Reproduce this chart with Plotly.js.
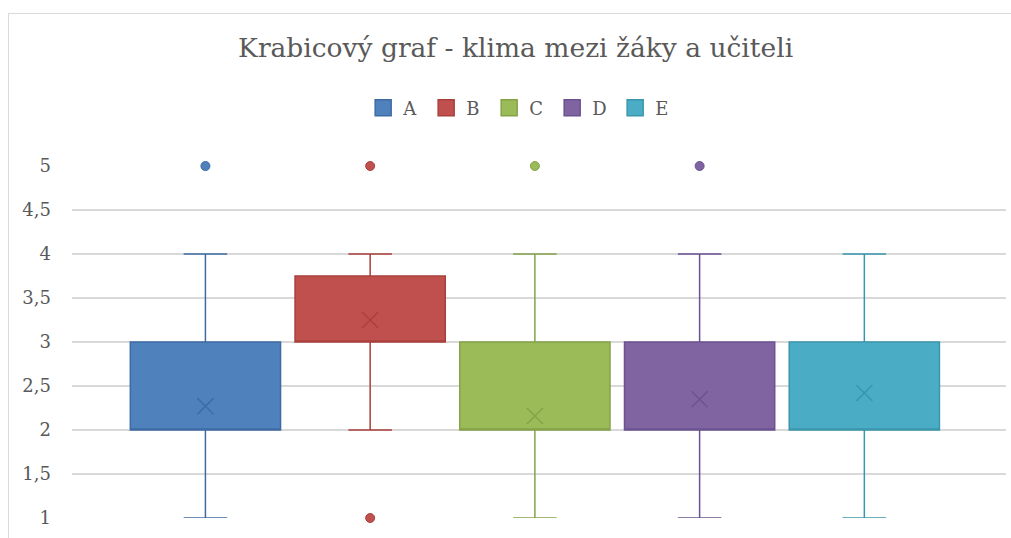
<!DOCTYPE html>
<html>
<head>
<meta charset="utf-8">
<script src="https://cdn.plot.ly/plotly-3.0.1.min.js"></script>
<style>
  html, body { margin: 0; padding: 0; background: #fff; overflow: hidden; }
  #wrap { position: relative; width: 1011px; height: 538px; overflow: hidden; }
  #chart { position: absolute; left: 0; top: 0; width: 1011px; height: 538px; }
  #frame { position: absolute; left: 8px; top: 13px; width: 1100px; height: 700px;
           border: 1px solid #D9D9D9; pointer-events: none; }
</style>
</head>
<body>
<div id="wrap">
  <div id="chart"></div>
  <div id="frame"></div>
</div>
<script>
// ---- data ----
const groups     = ["A", "B", "C", "D", "E"];
const q1         = [2, 3, 2, 2, 2];
const medians    = [2, 3, 2, 2, 2];
const q3         = [3, 3.75, 3, 3, 3];
const lowerWhisk = [1, 2, 1, 1, 1];
const upperWhisk = [4, 4, 4, 4, 4];
const means      = [2.27, 3.25, 2.16, 2.35, 2.42];
const outliers   = [[5], [1, 5], [5], [5], []];
const fills      = ["#4F81BD", "#C0504D", "#9BBB59", "#8064A2", "#4BACC6"];
const edges      = ["#3E6BA4", "#A9403D", "#84A348", "#6B5290", "#3A96AD"];
const yTickVals  = [1, 1.5, 2, 2.5, 3, 3.5, 4, 4.5, 5];
const yTickText  = ["1", "1,5", "2", "2,5", "3", "3,5", "4", "4,5", "5"];

const FONT = "'DejaVu Serif', 'Liberation Serif', serif";
const traces = [];

groups.forEach((g, i) => {
  traces.push({
    type: "box",
    name: g,
    x: [g],
    q1: [q1[i]], median: [medians[i]], q3: [q3[i]],
    lowerfence: [lowerWhisk[i]], upperfence: [upperWhisk[i]],
    fillcolor: fills[i],
    line: { color: edges[i], width: 1.5 },
    whiskerwidth: 0.29,
    boxpoints: false,
    showlegend: false,
    hoverinfo: "skip"
  });
});

groups.forEach((g, i) => {
  traces.push({
    type: "scatter", mode: "markers",
    x: [g], y: [means[i]],
    marker: { symbol: "x-thin-open", size: 16, line: { color: edges[i], width: 1.5 }, color: edges[i] },
    showlegend: false, hoverinfo: "skip", cliponaxis: false
  });
  if (outliers[i].length) {
    traces.push({
      type: "scatter", mode: "markers",
      x: outliers[i].map(() => g), y: outliers[i],
      marker: { symbol: "circle", size: 9, color: fills[i], line: { color: edges[i], width: 1 } },
      showlegend: false, hoverinfo: "skip", cliponaxis: false
    });
  }
});

// legend entries
groups.forEach((g, i) => {
  traces.push({
    type: "scatter", mode: "markers",
    x: [null], y: [null], name: g,
    marker: { symbol: "square", size: 16, color: fills[i], line: { color: edges[i], width: 1.5 } },
    showlegend: true, hoverinfo: "skip"
  });
});

const layout = {
  width: 1011, height: 538,
  paper_bgcolor: "rgba(0,0,0,0)", plot_bgcolor: "rgba(0,0,0,0)",
  margin: { l: 72, r: 5, t: 166, b: 20, pad: 0 },
  separators: ", ",
  font: { family: FONT, color: "#595959", size: 18 },
  title: {
    text: "Krabicový graf - klima mezi žáky a učiteli",
    font: { family: FONT, size: 26.5, color: "#595959" },
    xref: "container", yref: "container",
    x: 0.51, xanchor: "center", y: 1 - 48 / 538, yanchor: "middle"
  },
  boxmode: "overlay",
  boxgap: 0.088,
  boxgroupgap: 0,
  xaxis: {
    type: "category", categoryorder: "array", categoryarray: groups,
    range: [-0.81, 4.86],
    showticklabels: false, showgrid: false, zeroline: false, showline: false, ticks: ""
  },
  yaxis: {
    range: [1, 5], tickvals: yTickVals, ticktext: yTickText,
    showgrid: true, gridcolor: "#D9D9D9", gridwidth: 1.5,
    zeroline: false, showline: false, ticks: "", ticklabelstandoff: 20,
    tickfont: { family: FONT, size: 18, color: "#595959" }
  },
  showlegend: true,
  legend: {
    orientation: "h", xref: "container", yref: "container",
    x: 0.515, xanchor: "center", y: 1 - 108 / 538, yanchor: "middle",
    entrywidth: 18, entrywidthmode: "pixels",
    font: { family: FONT, size: 18, color: "#595959" },
    bgcolor: "rgba(0,0,0,0)"
  },
  hovermode: false
};

Plotly.newPlot("chart", traces, layout, { displayModeBar: false, staticPlot: true });
</script>
</body>
</html>
